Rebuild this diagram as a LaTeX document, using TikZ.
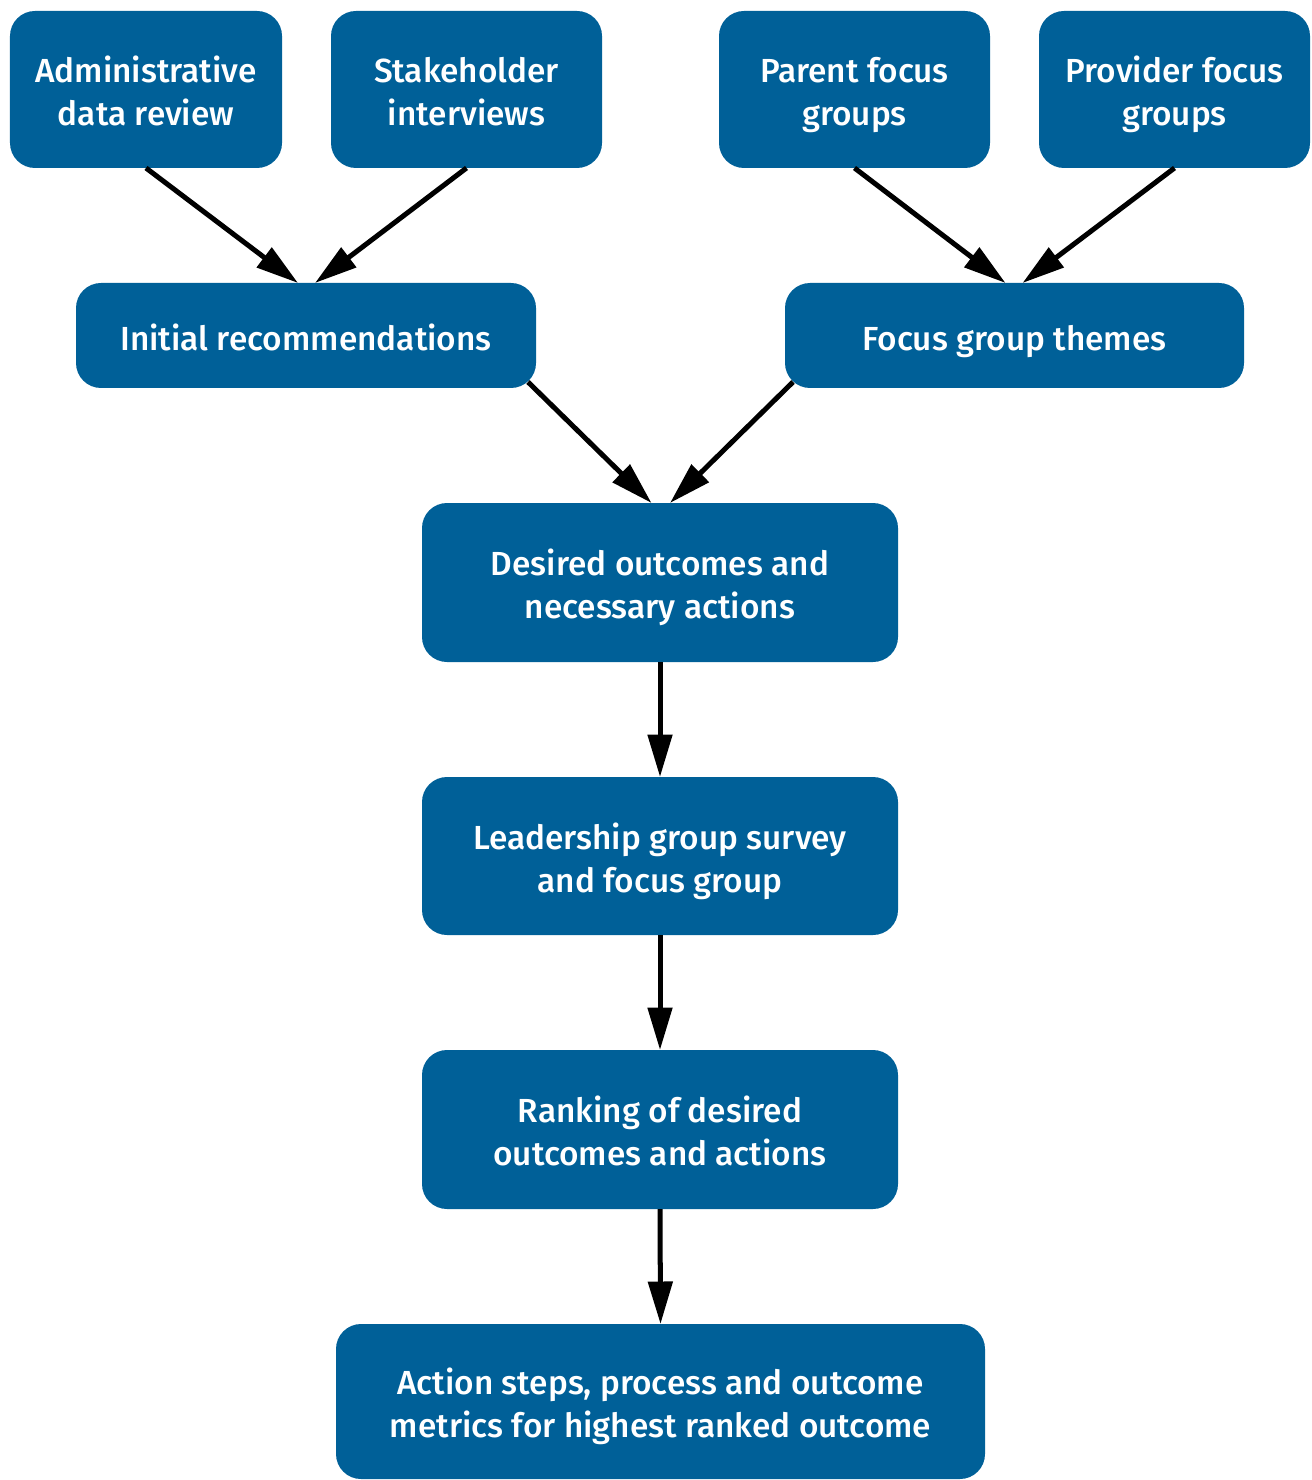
\documentclass[tikz,border=0pt]{standalone}
\usepackage{fontspec}
\setmainfont{Fira Sans}[BoldFont={Fira Sans Medium}]
\usetikzlibrary{arrows.meta}
\definecolor{boxblue}{HTML}{006098}
\newcommand{\highstrut}{\rule{0pt}{24pt}}
\tikzset{
  box/.style={fill=boxblue, rounded corners=0.5cm, text=white, align=center,
    font=\fontsize{19}{24.5}\selectfont\bfseries, inner sep=0pt, outer sep=0pt,
    execute at begin node=\highstrut, execute at end node=\strut},
  conn/.style={line width=2.85pt, -{Triangle[length=0.85cm,width=0.48cm]}, black}
}
\begin{document}
\begin{tikzpicture}
\useasboundingbox (0,0) rectangle (26.22,-29.6);
\node[box, minimum width=5.44cm, minimum height=3.14cm] (admin) at (2.92,-1.79) {\highstrut Administrative\\data review};
\node[box, minimum width=5.42cm, minimum height=3.14cm] (stake) at (9.33,-1.79) {\highstrut Stakeholder\\interviews};
\node[box, minimum width=5.42cm, minimum height=3.14cm] (parent) at (17.09,-1.79) {\highstrut Parent focus\\groups};
\node[box, minimum width=5.42cm, minimum height=3.14cm] (provider) at (23.49,-1.79) {\highstrut Provider focus\\groups};
\node[box, minimum width=9.2cm, minimum height=2.1cm] (initial) at (6.12,-6.71) {Initial recommendations};
\node[box, minimum width=9.18cm, minimum height=2.1cm] (themes) at (20.29,-6.71) {Focus group themes};
\node[box, minimum width=9.52cm, minimum height=3.18cm] (desired) at (13.2,-11.65) {\highstrut Desired outcomes and\\necessary actions};
\node[box, minimum width=9.52cm, minimum height=3.16cm] (leader) at (13.2,-17.12) {\highstrut Leadership group survey\\and focus group};
\node[box, minimum width=9.52cm, minimum height=3.18cm] (rank) at (13.2,-22.59) {\highstrut Ranking of desired\\outcomes and actions};
\node[box, minimum width=12.98cm, minimum height=3.1cm] (action) at (13.21,-28.03) {\highstrut Action steps, process and outcome\\metrics for highest ranked outcome};
\draw[conn] (admin.south) -- ([xshift=-0.16cm]initial.north);
\draw[conn] (stake.south) -- ([xshift=0.18cm]initial.north);
\draw[conn] (parent.south) -- ([xshift=-0.18cm]themes.north);
\draw[conn] (provider.south) -- ([xshift=0.16cm]themes.north);
\draw[conn] ([xshift=-0.16cm,yshift=0.12cm]initial.south east) -- ([xshift=-0.17cm]desired.north);
\draw[conn] ([xshift=0.16cm,yshift=0.12cm]themes.south west) -- ([xshift=0.2cm]desired.north);
\draw[conn] (desired.south) -- (leader.north);
\draw[conn] (leader.south) -- (rank.north);
\draw[conn] (rank.south) -- (action.north);
\end{tikzpicture}
\end{document}
